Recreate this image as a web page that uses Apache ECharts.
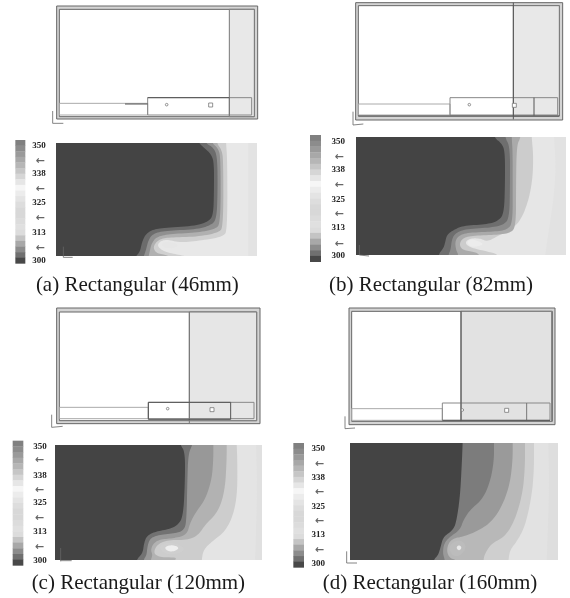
<!DOCTYPE html>
<html><head><meta charset="utf-8">
<style>html,body{margin:0;padding:0;background:#fff}#c{width:570px;height:598px;filter:blur(0.6px)}</style>
<script src="https://cdn.jsdelivr.net/npm/echarts@6/dist/echarts.min.js"></script>
</head><body><div id="c"></div>
<script>
// ---- text ----
const captions = ['(a) Rectangular (46mm)','(b) Rectangular (82mm)','(c) Rectangular (120mm)','(d) Rectangular (160mm)'];
const barTickLabels = ['350','338','325','313','300'];
// colour key, top (350) to bottom (300)
const barGreys = ['#808080','#8c8c8c','#9a9a9a','#a8a8a8','#b6b6b6','#c6c6c6','#d6d6d6','#e6e6e6','#f6f6f6','#ececec','#e4e4e4','#dddddd','#d8d8d8','#d8d8d8','#dcdcdc','#e0e0e0','#dcdcdc','#c4c4c4','#a8a8a8','#8c8c8c','#707070','#484848'];

// ---- panel (a) ----
const frameA=[170,18,773,357], innerA=[178,28,763,350], zoneA=[688,28,763,350], stripA=[178,310,443,345], boxA=[443,293,755,345];
const heavyA=[[375,312,443,312],[443,293,688,293]], dividerA=[[688,293,688,347]];
const ventsA=[[500,314],[632,315]], triadA=[[158,333,158,370],[158,370,190,370],[190,740,190,772],[190,772,218,772]];
const keyA=[46,420,76,790], keyLabelA=[117,[437,522,607,697,782]], keyArrowA=[120,[484,568,654,743]], captionA=[412,855];
const isoA=[
 [[385,9],[385,352]],
 [[318,9],[322,60],[322,270],[310,290],[240,302],[180,308],[140,298],[118,305],[112,320],[135,336],[180,345],[212,352]],
 [[290,9],[305,30],[310,60],[310,262],[295,278],[235,290],[150,292],[120,297],[105,310],[100,325],[110,340],[140,345],[150,352]],
 [[275,9],[295,25],[302,55],[302,250],[285,268],[230,278],[150,282],[110,290],[95,310],[90,330],[85,352]],
 [[255,9],[280,22],[292,50],[293,150],[290,235],[275,255],[230,268],[140,272],[100,280],[85,300],[78,330],[70,352]],
 [[235,9],[255,25],[275,45],[282,70],[282,150],[280,225],[265,245],[225,258],[130,263],[95,270],[75,285],[65,310],[60,335],[45,352]]
];
const isoGreysA=['#e8e8e8','#d0d0d0','#b0b0b0','#909090','#6c6c6c','#444444'];
const spotsA=[[[122,312],[140,304],[160,308],[178,316],[160,325],[135,325]]], spotGreysA=['#e6e6e6'];

// ---- panel (b) ----
const frameB=[212,8,833,360], innerB=[220,17,823,348], zoneB=[685,17,823,348], stripB=[220,312,495,345], boxB=[495,293,818,345];
const heavyB=[[685,8,685,358],[747,293,747,347],[220,348,823,348]], dividerB=[];
const ventsB=[[553,314],[688,316]], triadB=[[204,335,204,375],[204,375,235,372],[223,735,223,765],[223,765,252,768]];
const keyB=[75,405,108,785], keyLabelB=[160,[425,510,598,683,767]], keyArrowB=[162,[471,556,642,732]], captionB=[438,855];
const isoB=[
 [[372,8],[378,100],[370,200],[345,358]],
 [[305,8],[310,60],[308,130],[295,200],[270,260],[240,285],[200,305],[172,320],[150,310],[120,310],[105,322],[115,335],[150,345],[210,358]],
 [[272,8],[260,30],[258,150],[258,275],[240,295],[190,300],[120,302],[95,312],[88,330],[98,345],[130,350],[150,358]],
 [[245,8],[248,50],[248,150],[248,265],[230,285],[190,290],[110,293],[85,303],[75,320],[78,345],[85,358]],
 [[225,8],[240,35],[240,150],[238,250],[220,270],[180,278],[105,282],[75,295],[65,315],[62,345],[55,358]],
 [[192,8],[215,25],[225,50],[225,150],[222,235],[205,258],[170,268],[100,272],[70,285],[50,300],[45,325],[40,340],[25,358]]
];
const isoGreysB=['#e6e6e6','#cccccc','#aaaaaa','#8c8c8c','#6e6e6e','#444444'];
const spotsB=[[[110,320],[125,312],[145,318],[162,328],[140,335],[120,335]]], spotGreysB=['#ececec'];

// ---- panel (c) ----
const frameC=[170,30,780,377], innerC=[178,42,770,368], zoneC=[568,42,770,368], stripC=[178,328,445,362], boxC=[445,313,762,362];
const heavyC=[[445,313,692,313],[692,313,692,364],[445,364,692,364],[445,313,445,364]], dividerC=[[568,42,568,376]];
const ventsC=[[503,332],[636,335]], triadC=[[155,350,155,388],[155,388,188,385],[182,750,182,790],[182,788,215,788]];
const keyC=[38,428,70,802], keyLabelC=[120,[447,532,615,702,787]], keyArrowC=[118,[487,575,660,746]], captionC=[415,855];
const isoC=[
 [[378,14],[382,150],[375,360]],
 [[320,14],[322,60],[322,160],[310,225],[285,275],[245,305],[220,330],[215,360]],
 [[290,14],[290,60],[285,150],[265,215],[225,255],[205,285],[175,300],[110,300],[80,315],[70,340],[90,352],[140,352],[135,360]],
 [[250,14],[250,60],[245,120],[225,180],[195,220],[180,250],[170,285],[130,295],[90,298],[70,310],[62,330],[68,345],[62,360]],
 [[188,14],[175,40],[172,120],[170,225],[165,270],[135,280],[85,285],[60,295],[52,320],[50,345],[40,360]],
 [[150,14],[165,35],[165,120],[160,225],[145,255],[115,268],[75,275],[50,288],[42,310],[38,340],[18,360]]
];
const isoGreysC=['#e4e4e4','#cdcdcd','#b2b2b2','#989898','#727272','#444444'];
const spotsC=[[[85,322],[105,308],[140,310],[165,325],[150,340],[110,345]],[[103,322],[120,315],[140,318],[147,326],[130,335],[112,333]]], spotGreysC=['#cfcfcf','#eeeeee'];

// ---- panel (d) ----
const frameD=[192,30,810,380], innerD=[200,40,802,370], zoneD=[528,40,800,370], stripD=[200,332,472,367], boxD=[472,315,795,367];
const heavyD=[[528,40,528,368],[472,367,795,367]], dividerD=[[725,315,725,367]];
const ventsD=[[532,336],[665,337]], triadD=[[180,355,180,392],[180,392,210,390],[185,760,185,795],[185,795,216,795]];
const keyD=[25,435,57,808], keyLabelD=[100,[452,540,625,710,797]], keyArrowD=[103,[498,583,670,755]], captionD=[435,855];
const isoD=[
 [[385,10],[388,150],[380,360]],
 [[342,10],[342,90],[335,170],[315,260],[290,305],[270,330],[265,360]],
 [[315,10],[315,80],[308,160],[285,240],[255,290],[215,310],[195,340],[190,360]],
 [[278,10],[278,60],[270,130],[250,190],[220,240],[180,270],[130,290],[100,295],[85,310],[80,335],[90,355],[110,360]],
 [[222,10],[222,60],[212,120],[190,175],[150,210],[130,240],[120,270],[90,290],[72,310],[68,340],[75,360]],
 [[128,10],[125,80],[120,170],[110,240],[100,270],[70,290],[62,320],[55,345],[40,360]]
];
const isoGreysD=['#e2e2e2','#cfcfcf','#b8b8b8','#9a9a9a','#7c7c7c','#444444'];
const spotsD=[[[85,325],[100,305],[125,300],[140,320],[125,345],[100,350]],[[108,323],[117,314],[126,323],[117,333]]], spotGreysD=['#bcbcbc','#e8e8e8'];

// ---- assembly ----
const panels=[
 {q:[0,0],frame:frameA,inner:innerA,zone:zoneA,strip:stripA,box:boxA,heavy:heavyA,div:dividerA,vents:ventsA,triad:triadA,key:keyA,kl:keyLabelA,ka:keyArrowA,cap:captionA,
  iso:isoA,g:isoGreysA,spots:spotsA,sg:spotGreysA,rect:[56,143,201,113],org:[120,140],bg:'#e3e3e3',zf:'#e8e8e8'},
 {q:[285,0],frame:frameB,inner:innerB,zone:zoneB,strip:stripB,box:boxB,heavy:heavyB,div:dividerB,vents:ventsB,triad:triadB,key:keyB,kl:keyLabelB,ka:keyArrowB,cap:captionB,
  iso:isoB,g:isoGreysB,spots:spotsB,sg:spotGreysB,rect:[356,137,210,118],org:[430,135],bg:'#e2e2e2',zf:'#e8e8e8'},
 {q:[0,298],frame:frameC,inner:innerC,zone:zoneC,strip:stripC,box:boxC,heavy:heavyC,div:dividerC,vents:ventsC,triad:triadC,key:keyC,kl:keyLabelC,ka:keyArrowC,cap:captionC,
  iso:isoC,g:isoGreysC,spots:spotsC,sg:spotGreysC,rect:[55,445,207,115],org:[130,440],bg:'#e0e0e0',zf:'#e6e6e6'},
 {q:[285,298],frame:frameD,inner:innerD,zone:zoneD,strip:stripD,box:boxD,heavy:heavyD,div:dividerD,vents:ventsD,triad:triadD,key:keyD,kl:keyLabelD,ka:keyArrowD,cap:captionD,
  iso:isoD,g:isoGreysD,spots:spotsD,sg:spotGreysD,rect:[350,443,208,117],org:[420,440],bg:'#dedede',zf:'#e2e2e2'}
];

function chaikin(pts,closed,n){
  let p=pts;
  for(let k=0;k<n;k++){
    const out=closed?[]:[p[0]];
    const m=closed?p.length:p.length-1;
    for(let i=0;i<m;i++){
      const a=p[i],b=p[(i+1)%p.length];
      out.push([a[0]*.75+b[0]*.25,a[1]*.75+b[1]*.25],[a[0]*.25+b[0]*.75,a[1]*.25+b[1]*.75]);
    }
    if(!closed)out.push(p[p.length-1]);
    p=out;
  }
  return p;
}
const grids=[],xAxes=[],yAxes=[],series=[];
const hidden={show:false};
function addGrid(l,t,w,h,x0,x1,y0,y1){
  grids.push({left:l,top:t,width:w,height:h,containLabel:false});
  xAxes.push({type:'value',gridIndex:grids.length-1,min:x0,max:x1,...hidden});
  yAxes.push({type:'value',gridIndex:grids.length-1,min:y0,max:y1,inverse:true,...hidden});
  return grids.length-1;
}
function rectEl(api,r,style){
  const a=api.coord([r[0],r[1]]),b=api.coord([r[2],r[3]]);
  return {type:'rect',shape:{x:a[0],y:a[1],width:b[0]-a[0],height:b[1]-a[1]},style};
}
function segEl(api,s,stroke,w){
  const a=api.coord([s[0],s[1]]),b=api.coord([s[2],s[3]]);
  return {type:'line',shape:{x1:a[0],y1:a[1],x2:b[0],y2:b[1]},style:{stroke,lineWidth:w,fill:null}};
}
function textEl(api,x,y,text,font,fill){
  const a=api.coord([x,y]);
  return {type:'text',style:{text,x:a[0],y:a[1],font,fill,textAlign:'center',textVerticalAlign:'middle'}};
}
panels.forEach((P,pi)=>{
  const [l,t,w,h]=P.rect,[ox,oy]=P.org;
  const cx0=(l-ox)*3,cx1=(l+w-ox)*3,cy0=(t-oy)*3,cy1=(t+h-oy)*3;
  const gc=addGrid(l,t,w,h,cx0,cx1,cy0,cy1);
  series.push({type:'custom',coordinateSystem:'cartesian2d',xAxisIndex:gc,yAxisIndex:gc,clip:true,silent:true,z:2,
    data:[[cx0,cy0]],renderItem:(params,api)=>{
      const ch=[rectEl(api,[cx0,cy0,cx1,cy1],{fill:P.bg})];
      P.iso.forEach((pts,i)=>{
        const e=[[pts[0][0],cy0-30],...pts,[pts[pts.length-1][0],cy1+30]];
        const s=chaikin(e,false,3);
        const poly=[...s,[cx0-30,cy1+30],[cx0-30,cy0-30]].map(p=>api.coord(p));
        ch.push({type:'polygon',shape:{points:poly},style:{fill:P.g[i]}});
      });
      P.spots.forEach((pts,i)=>{
        ch.push({type:'polygon',shape:{points:chaikin(pts,true,3).map(p=>api.coord(p))},style:{fill:P.sg[i]}});
      });
      return {type:'group',children:ch};
    }});
  const g=addGrid(P.q[0],P.q[1],285,300,0,855,0,900);
  series.push({type:'custom',coordinateSystem:'cartesian2d',xAxisIndex:g,yAxisIndex:g,clip:false,silent:true,z:3,
    data:[[0,0]],renderItem:(params,api)=>{
      const ch=[];
      ch.push(rectEl(api,P.frame,{fill:'#d4d4d4',stroke:'#666',lineWidth:1}));
      ch.push(rectEl(api,P.inner,{fill:'#fff',stroke:'#666',lineWidth:1}));
      ch.push(rectEl(api,P.zone,{fill:P.zf,stroke:'#777',lineWidth:1}));
      ch.push(rectEl(api,P.strip,{fill:'rgba(255,255,255,0)',stroke:'#aaa',lineWidth:1}));
      ch.push(rectEl(api,P.box,{fill:'rgba(255,255,255,0)',stroke:'#888',lineWidth:1}));
      P.div.forEach(s=>ch.push(segEl(api,s,'#777',1)));
      P.heavy.forEach(s=>ch.push(segEl(api,s,'#555',1)));
      P.vents.forEach((v,i)=>{
        const c=api.coord(v);
        ch.push(i===0?{type:'circle',shape:{cx:c[0],cy:c[1],r:1.3},style:{fill:'#fff',stroke:'#777',lineWidth:.8}}
          :{type:'rect',shape:{x:c[0]-2,y:c[1]-2,width:4,height:4},style:{fill:'#fff',stroke:'#777',lineWidth:.8}});
      });
      P.triad.forEach(s=>ch.push(segEl(api,s,'#666',.8)));
      const [kx0,ky0,kx1,ky1]=P.key, n=barGreys.length;
      barGreys.forEach((c,i)=>{
        ch.push(rectEl(api,[kx0,ky0+(ky1-ky0)*i/n,kx1,ky0+(ky1-ky0)*(i+1)/n+1],{fill:c}));
      });
      P.kl[1].forEach((y,i)=>ch.push(textEl(api,P.kl[0],y,barTickLabels[i],'bold 9px "Liberation Serif"','#222')));
      P.ka[1].forEach(y=>ch.push(textEl(api,P.ka[0],y,'←','bold 11px "DejaVu Sans"','#666')));
      ch.push(textEl(api,P.cap[0],P.cap[1],captions[pi],'21px "Liberation Serif"','#1a1a1a'));
      return {type:'group',children:ch};
    }});
});
const chart=echarts.init(document.getElementById('c'),null,{renderer:'canvas'});
chart.setOption({animation:false,backgroundColor:'#fff',grid:grids,xAxis:xAxes,yAxis:yAxes,series});
</script></body></html>
